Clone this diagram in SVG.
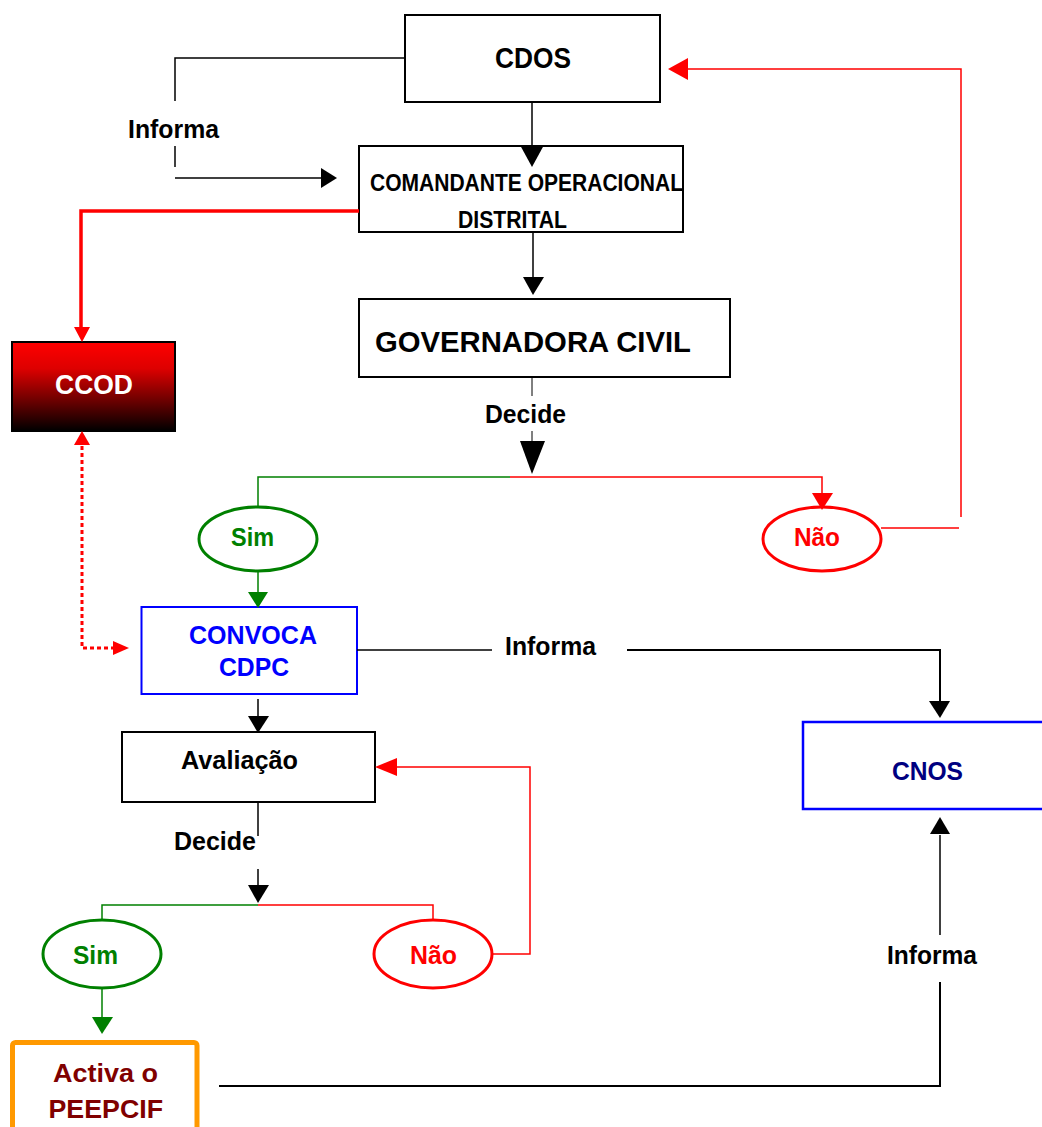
<svg xmlns="http://www.w3.org/2000/svg" width="1042" height="1127" viewBox="0 0 1042 1127">
<style>
text{font-family:"Liberation Sans",Arial,sans-serif;font-weight:bold}
.box{fill:#fff;stroke:#000;stroke-width:2}
.k{stroke:#000;stroke-width:1.5;fill:none}
.k2{stroke:#000;stroke-width:2;fill:none}
.r{stroke:#ff0000;stroke-width:1.5;fill:none}
.g{stroke:#008000;stroke-width:1.5;fill:none}
.ka{fill:#000}
.ra{fill:#ff0000}
.ga{fill:#008000}
.el{fill:#fff;stroke-width:3}
</style>
<defs>
<linearGradient id="ccodGrad" x1="0" y1="0" x2="0" y2="1">
<stop offset="0" stop-color="#ff0000"/>
<stop offset="0.3" stop-color="#dd0000"/>
<stop offset="1" stop-color="#000000"/>
</linearGradient>
</defs>

<g id="cdos">
<rect class="box" x="405" y="15" width="255" height="87"/>
<text x="495" y="68" font-size="29" textLength="76" lengthAdjust="spacingAndGlyphs">CDOS</text>
</g>

<g id="comandante">
<rect class="box" x="359" y="146" width="324" height="86"/>
<text x="370" y="191" font-size="23" textLength="313" lengthAdjust="spacingAndGlyphs">COMANDANTE OPERACIONAL</text>
<text x="458" y="228" font-size="23" textLength="109" lengthAdjust="spacingAndGlyphs">DISTRITAL</text>
</g>

<g id="governadora">
<rect class="box" x="359" y="299" width="371" height="78" stroke-width="2.5"/>
<text x="375" y="352" font-size="30" textLength="316" lengthAdjust="spacingAndGlyphs">GOVERNADORA CIVIL</text>
</g>

<g id="ccod">
<rect x="12" y="342" width="163" height="89" fill="url(#ccodGrad)" stroke="#000" stroke-width="2"/>
<text x="55" y="394" font-size="28" fill="#fff" textLength="78" lengthAdjust="spacingAndGlyphs">CCOD</text>
</g>

<g id="sim1">
<ellipse class="el" cx="258" cy="539" rx="59" ry="32" stroke="#008000"/>
<text x="231" y="546" font-size="26" fill="#008000" textLength="43" lengthAdjust="spacingAndGlyphs">Sim</text>
</g>

<g id="nao1">
<ellipse class="el" cx="822" cy="539" rx="59" ry="32" stroke="#ff0000"/>
<text x="794" y="546" font-size="26" fill="#ff0000" textLength="46" lengthAdjust="spacingAndGlyphs">Não</text>
</g>

<g id="convoca">
<rect x="141.5" y="607" width="215.5" height="87" fill="#fff" stroke="#0000ff" stroke-width="2"/>
<text x="189" y="644" font-size="26" fill="#0000ff" textLength="128" lengthAdjust="spacingAndGlyphs">CONVOCA</text>
<text x="219" y="676" font-size="26" fill="#0000ff" textLength="70" lengthAdjust="spacingAndGlyphs">CDPC</text>
</g>

<g id="cnos">
<rect x="803" y="722" width="260" height="87" fill="#fff" stroke="#0000ff" stroke-width="2.5"/>
<text x="892" y="780" font-size="26" fill="#000080" textLength="71" lengthAdjust="spacingAndGlyphs">CNOS</text>
</g>

<g id="avaliacao">
<rect class="box" x="122" y="732" width="253" height="70" stroke-width="1.8"/>
<text x="181" y="769" font-size="26" textLength="117" lengthAdjust="spacingAndGlyphs">Avaliação</text>
</g>

<g id="sim2">
<ellipse class="el" cx="102" cy="954" rx="59" ry="34" stroke="#008000"/>
<text x="73" y="964" font-size="26" fill="#008000" textLength="45" lengthAdjust="spacingAndGlyphs">Sim</text>
</g>

<g id="nao2">
<ellipse class="el" cx="433" cy="954" rx="59" ry="34" stroke="#ff0000"/>
<text x="410" y="964" font-size="26" fill="#ff0000" textLength="47" lengthAdjust="spacingAndGlyphs">Não</text>
</g>

<g id="activa">
<rect x="12.5" y="1042.5" width="184.5" height="110" rx="3" fill="#fff" stroke="#ff9900" stroke-width="5"/>
<text x="53" y="1082" font-size="25" fill="#800000" textLength="105" lengthAdjust="spacingAndGlyphs">Activa o</text>
<text x="48.5" y="1118" font-size="25" fill="#800000" textLength="114.5" lengthAdjust="spacingAndGlyphs">PEEPCIF</text>
</g>

<g id="connectors">
<polyline class="k" points="405,58 175,58 175,101"/>
<line class="k" x1="175" y1="146" x2="175" y2="167"/>
<line class="k" x1="175" y1="178" x2="322" y2="178"/>
<polygon class="ka" points="321,168 337,178 321,188"/>
<line class="k" x1="532" y1="102" x2="532" y2="146"/>
<polygon class="ka" points="520,145 544,145 532,167"/>
<line class="k" x1="533" y1="232" x2="533" y2="278"/>
<polygon class="ka" points="523,277 544,277 533,295"/>
<polyline points="359,211 81,211 81,328" fill="none" stroke="#ff0000" stroke-width="3.5"/>
<polygon class="ra" points="74,327 90,327 82,342"/>
<polyline points="82,446 82,648 114,648" fill="none" stroke="#ff0000" stroke-width="3" stroke-dasharray="4,3"/>
<polygon class="ra" points="74,445 90,445 82,431"/>
<polygon class="ra" points="113,641 113,655 129,648"/>
<line stroke="#000" stroke-width="1" x1="532" y1="377" x2="532" y2="396"/>
<line stroke="#000" stroke-width="1" x1="532" y1="431" x2="532" y2="442"/>
<polygon class="ka" points="520,441 545,441 532,474"/>
<polyline class="g" points="258,507 258,477 510,477"/>
<polyline class="r" points="510,477 822,477 822,494"/>
<polygon class="ra" points="812,493 833,493 822,510"/>
<line class="r" x1="881" y1="528" x2="959" y2="528"/>
<polyline class="r" points="961,517 961,69 686,69"/>
<polygon class="ra" points="688,58 688,80 668,69"/>
<line class="g" x1="258" y1="571" x2="258" y2="593"/>
<polygon class="ga" points="248,592 268,592 258,608"/>
<line class="k" x1="357" y1="650" x2="492" y2="650"/>
<polyline class="k2" points="627,650 940,650 940,702"/>
<polygon class="ka" points="929,701 950,701 940,718"/>
<line class="k" x1="258" y1="699" x2="258" y2="717"/>
<polygon class="ka" points="248,716 269,716 258,733"/>
<line class="k" x1="258" y1="802" x2="258" y2="836"/>
<line class="k" x1="258" y1="869" x2="258" y2="886"/>
<polygon class="ka" points="248,885 269,885 258,903"/>
<polyline class="g" points="102,920 102,905 258,905"/>
<polyline class="r" points="258,905 433,905 433,920"/>
<polyline class="r" points="492,954 530,954 530,767 396,767"/>
<polygon class="ra" points="397,758 397,776 375,767"/>
<line class="g" x1="102" y1="988" x2="102" y2="1018"/>
<polygon class="ga" points="92,1017 113,1017 102,1034"/>
<polyline class="k2" points="219,1086 940,1086 940,982"/>
<line class="k" x1="940" y1="935" x2="940" y2="835"/>
<polygon class="ka" points="930,834 950,834 940,817"/>
</g>

<g id="labels">
<text x="128" y="138" font-size="26" textLength="91" lengthAdjust="spacingAndGlyphs">Informa</text>
<text x="485" y="423" font-size="25" textLength="81" lengthAdjust="spacingAndGlyphs">Decide</text>
<text x="505" y="655" font-size="26" textLength="91" lengthAdjust="spacingAndGlyphs">Informa</text>
<text x="174" y="850" font-size="25" textLength="82" lengthAdjust="spacingAndGlyphs">Decide</text>
<text x="887" y="964" font-size="26" textLength="90" lengthAdjust="spacingAndGlyphs">Informa</text>
</g>
</svg>
